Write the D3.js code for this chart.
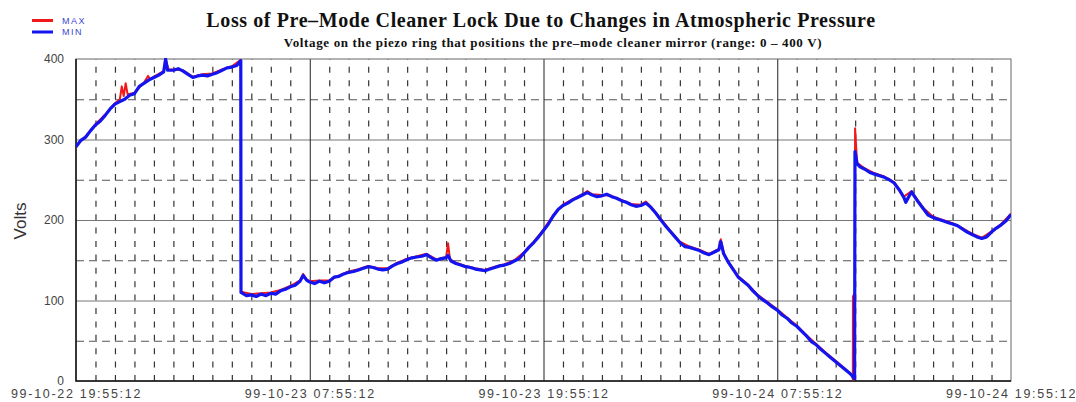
<!DOCTYPE html>
<html>
<head>
<meta charset="utf-8">
<script src="https://cdn.jsdelivr.net/npm/d3@7"></script>
<style>
  body { margin: 0; background: #fff; }
  svg { display: block; }
</style>
</head>
<body>
<svg id="chart" width="1076" height="402"></svg>
<script>
// Time axis labels (12-hour spacing), y-axis ticks
const tickLabels = ["99-10-22 19:55:12", "99-10-23 07:55:12", "99-10-23 19:55:12", "99-10-24 07:55:12", "99-10-24 19:55:12"];
const yTicks = [0, 100, 200, 300, 400];
const yHalfTicks = [50, 150, 250, 350];

// Piezo voltage, [hours since first label, volts]
const minSeries = [
  [0,291],[0.25,299],[0.5,303],[0.75,311],[1,318],[1.25,323],[1.5,330],[1.75,338],[2,344],[2.25,347],[2.5,350],[2.75,355],
  [3,357],[3.25,366],[3.5,370],[3.75,374],[4,377],[4.25,380],[4.5,384],[4.6,400],[4.7,386],[5,386],[5.25,388],[5.5,385],
  [5.75,381],[6,377],[6.25,379],[6.5,380],[6.75,379],[7,381],[7.25,383],[7.5,386],[7.75,389],[8,390],[8.25,392],[8.46,398],
  [8.47,110],[8.75,106],[9,107],[9.25,105],[9.5,108],[9.75,106],[10,109],[10.25,108],[10.5,112],[10.75,114],[11,117],
  [11.25,119],[11.5,124],[11.66,131],[11.85,125],[12,123],[12.25,121],[12.5,124],[12.75,122],[13,124],[13.25,129],[13.5,130],
  [13.75,133],[14,135],[14.25,136],[14.5,138],[14.75,140],[15,142],[15.25,141],[15.5,139],[15.75,138],[16,139],[16.25,143],
  [16.5,146],[16.75,148],[17,151],[17.25,153],[17.5,154],[17.75,155],[18,157],[18.25,153],[18.5,150],[18.75,152],[19,153],
  [19.1,156],[19.25,149],[19.5,146],[19.75,144],[20,142],[20.25,141],[20.5,139],[20.75,138],[21,137],[21.25,139],[21.5,141],
  [21.75,143],[22,144],[22.25,146],[22.5,149],[22.75,152],[23,159],[23.25,166],[23.5,172],[23.75,179],[24,187],[24.25,195],
  [24.5,205],[24.75,213],[25,218],[25.25,221],[25.5,225],[25.75,228],[26,231],[26.25,234],[26.5,231],[26.75,229],[27,230],
  [27.25,232],[27.5,229],[27.75,227],[28,224],[28.25,222],[28.5,219],[28.75,217],[29,218],[29.25,221],[29.5,216],[29.75,209],
  [30,201],[30.25,193],[30.5,186],[30.75,179],[31,172],[31.25,167],[31.5,166],[31.75,164],[32,162],[32.25,159],[32.5,157],
  [32.75,160],[33,163],[33.1,173],[33.25,158],[33.5,147],[33.75,138],[34,129],[34.25,124],[34.5,119],[34.75,112],[35,106],
  [35.25,101],[35.5,97],[35.75,92],[36,88],[36.25,82],[36.5,78],[36.75,72],[37,68],[37.25,62],[37.5,56],[37.75,49],[38,45],
  [38.25,39],[38.5,34],[38.75,29],[39,24],[39.25,19],[39.5,14],[39.75,9],[39.97,3],[39.99,285],[40.1,270],[40.25,266],
  [40.5,263],[40.75,259],[41,257],[41.25,255],[41.5,253],[41.75,250],[42,246],[42.25,238],[42.5,228],[42.6,222],[42.75,229],
  [42.9,235],[43,231],[43.25,222],[43.5,214],[43.75,206],[44,203],[44.25,201],[44.5,199],[44.75,197],[45,195],[45.25,193],
  [45.5,189],[45.75,185],[46,182],[46.25,179],[46.5,177],[46.75,179],[47,185],[47.25,190],[47.5,194],[47.75,199],[48,207]
];

const maxSeries = [
  [0,292],[0.5,304],[1,319],[1.5,331],[2,345],[2.25,350],[2.35,366],[2.45,354],[2.55,370],[2.65,356],[3,358],[3.5,371],
  [3.7,379],[3.8,375],[4,378],[4.5,385],[4.6,400],[4.75,387],[5,387],[5.5,386],[6,378],[6.5,381],[7,382],[7.5,387],[8,391],
  [8.46,399],[8.47,111],[9,108],[9.5,109],[10,110],[10.5,113],[11,118],[11.5,125],[11.66,133],[11.85,126],[12,124],[12.5,125],
  [13,125],[13.5,131],[14,136],[14.5,139],[15,143],[15.5,140],[16,140],[16.5,147],[17,152],[17.5,155],[18,158],[18.5,151],
  [19,154],[19.1,171],[19.2,151],[19.5,147],[20,143],[20.5,140],[21,138],[21.5,142],[22,145],[22.5,150],[23,160],[23.5,173],
  [24,188],[24.5,206],[25,219],[25.5,226],[26,232],[26.25,236],[26.5,232],[27,231],[27.5,230],[28,225],[28.5,220],[29,219],
  [29.25,223],[29.5,217],[30,202],[30.5,187],[31,173],[31.5,167],[32,163],[32.5,158],[33,164],[33.1,176],[33.25,159],
  [33.5,148],[34,130],[34.5,120],[35,107],[35.5,98],[36,89],[36.5,79],[37,69],[37.5,57],[38,46],[38.5,35],[39,25],[39.5,15],
  [39.85,6],[39.88,2],[39.885,105],[39.99,110],[39.995,314],[40.1,271],[40.5,264],[41,258],[41.5,254],[42,247],[42.5,229],[42.9,236],
  [43,232],[43.5,215],[44,204],[44.5,200],[45,196],[45.5,190],[46,183],[46.5,178],[47,186],[47.5,195],[48,208]
];

const svg = d3.select("#chart");
const margin = { left: 76, top: 59, right: 1076 - 1011, bottom: 402 - 381 };
const W = 1076 - margin.left - margin.right;
const H = 402 - margin.top - margin.bottom;

const parseT = d3.utcParse("%y-%m-%d %H:%M:%S");
const fmtT = d3.utcFormat("%y-%m-%d %H:%M:%S");
const tickTimes = tickLabels.map(parseT);
const t0 = tickTimes[0];
const toTime = h => new Date(+t0 + h * 3600e3);
const spanHours = (tickTimes[tickTimes.length - 1] - t0) / 3600e3;
const hourTimes = d3.range(0, spanHours + 1).map(toTime);

const x = d3.scaleUtc().domain(d3.extent(tickTimes)).range([margin.left, margin.left + W]);
const y = d3.scaleLinear().domain([0, 400]).range([margin.top + H, margin.top]);

// Hourly dashed verticals
const isMajor = t => tickTimes.some(m => +m === +t);
svg.append("g")
  .attr("transform", `translate(0,${margin.top + H})`)
  .call(d3.axisBottom(x).tickValues(hourTimes.filter(t => !isMajor(t))).tickSize(-H).tickFormat(""))
  .call(g => g.select(".domain").remove())
  .selectAll("line")
  .attr("stroke", "#333").attr("stroke-width", 1.2).attr("stroke-dasharray", "6,7.4");

// Dashed horizontals at the half-hundreds
svg.append("g")
  .attr("transform", `translate(${margin.left},0)`)
  .call(d3.axisLeft(y).tickValues(yHalfTicks).tickSize(-W).tickFormat(""))
  .call(g => g.select(".domain").remove())
  .selectAll("line")
  .attr("stroke", "#555").attr("stroke-dasharray", "8,5");

// Solid horizontals
svg.append("g")
  .attr("transform", `translate(${margin.left},0)`)
  .call(d3.axisLeft(y).tickValues(yTicks.slice(1, -1)).tickSize(-W).tickFormat(""))
  .call(g => g.select(".domain").remove())
  .selectAll("line")
  .attr("stroke", "#777");

// Solid verticals every 12 hours
svg.append("g")
  .attr("transform", `translate(0,${margin.top + H})`)
  .call(d3.axisBottom(x).tickValues(tickTimes.slice(1, -1)).tickSize(-H).tickFormat(""))
  .call(g => g.select(".domain").remove())
  .selectAll("line")
  .attr("stroke", "#222");

// Frame
svg.append("rect")
  .attr("x", margin.left).attr("y", margin.top).attr("width", W).attr("height", H)
  .attr("fill", "none").attr("stroke", "#666");
svg.append("path")
  .attr("d", `M${margin.left},${margin.top}V${margin.top + H}H${margin.left + W}`)
  .attr("fill", "none").attr("stroke", "#111").attr("stroke-width", 1.5);

// Data traces
svg.append("defs").append("clipPath").attr("id", "plotClip")
  .append("rect").attr("x", margin.left).attr("y", margin.top - 1).attr("width", W).attr("height", H + 2);

const line = d3.line().x(d => x(toTime(d[0]))).y(d => y(d[1]));
const traces = svg.append("g").attr("clip-path", "url(#plotClip)");
traces.append("path").datum(maxSeries)
  .attr("d", line).attr("fill", "none").attr("stroke", "#f01818").attr("stroke-width", 2).attr("stroke-linejoin", "round");
traces.append("path").datum(minSeries)
  .attr("d", line).attr("fill", "none").attr("stroke", "#1414f0").attr("stroke-width", 3.2).attr("stroke-linejoin", "round");

// Axis labels
svg.append("g")
  .attr("transform", `translate(0,${margin.top + H})`)
  .call(d3.axisBottom(x).tickValues(tickTimes).tickFormat(fmtT).tickSize(0).tickPadding(8))
  .call(g => g.select(".domain").remove())
  .selectAll("text")
  .attr("font-family", "Liberation Sans, Arial, sans-serif").attr("font-size", 12.5).attr("fill", "#444")
  .attr("letter-spacing", 1.7);

svg.append("g")
  .attr("transform", `translate(${margin.left},0)`)
  .call(d3.axisLeft(y).tickValues(yTicks).tickSize(0).tickPadding(12))
  .call(g => g.select(".domain").remove())
  .selectAll("text")
  .attr("font-family", "Liberation Sans, Arial, sans-serif").attr("font-size", 12).attr("fill", "#444");

svg.append("text")
  .attr("transform", "translate(26,221) rotate(-90)")
  .attr("text-anchor", "middle")
  .attr("font-family", "Liberation Sans, Arial, sans-serif").attr("font-size", 17).attr("fill", "#333")
  .text("Volts");

// Titles
svg.append("text")
  .attr("x", 541).attr("y", 27).attr("text-anchor", "middle")
  .attr("font-family", "Liberation Serif, Times New Roman, serif").attr("font-weight", "bold").attr("font-size", 20)
  .attr("letter-spacing", 0.6).attr("fill", "#111")
  .text("Loss of Pre–Mode Cleaner Lock Due to Changes in Atmospheric Pressure");
svg.append("text")
  .attr("x", 553).attr("y", 47).attr("text-anchor", "middle")
  .attr("font-family", "Liberation Serif, Times New Roman, serif").attr("font-weight", "bold").attr("font-size", 13)
  .attr("letter-spacing", 0.65).attr("fill", "#111")
  .text("Voltage on the piezo ring that positions the pre–mode cleaner mirror (range: 0 – 400 V)");

// Legend
const legend = [["MAX", "#f01818"], ["MIN", "#1414f0"]];
const lg = svg.append("g");
legend.forEach(([name, color], i) => {
  const yy = 20.5 + i * 11.5;
  lg.append("line").attr("x1", 32).attr("x2", 53).attr("y1", yy).attr("y2", yy)
    .attr("stroke", color).attr("stroke-width", 3);
  lg.append("text").attr("x", 62).attr("y", yy + 3)
    .attr("font-family", "Liberation Sans, Arial, sans-serif").attr("font-size", 9).attr("fill", "#3a48d0")
    .attr("letter-spacing", 1.5)
    .text(name);
});
</script>
</body>
</html>
